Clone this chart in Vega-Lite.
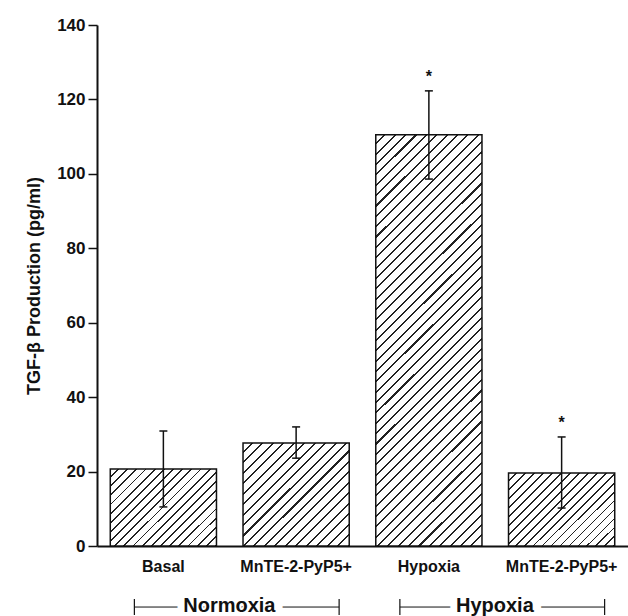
{
"$schema": "https://vega.github.io/schema/vega-lite/v6.json",
"width": 531, "height": 521,
"autosize": "none",
"padding": {"left": 97, "top": 25, "right": 0, "bottom": 70},
"background": "white",
"config": {"view": {"stroke": null}, "font": "Liberation Sans"},
"datasets": {
"bars": [
{"id": "N|Basal", "value": 20.7, "lo": 10.5, "hi": 30.9, "sig": ""},
{"id": "N|MnTE-2-PyP5+", "value": 27.7, "lo": 23.6, "hi": 32.0, "sig": ""},
{"id": "H|Hypoxia", "value": 110.5, "lo": 98.6, "hi": 122.3, "sig": "*"},
{"id": "H|MnTE-2-PyP5+", "value": 19.6, "lo": 10.2, "hi": 29.3, "sig": "*"}
],
"groups": [
{"group": "Normoxia", "first": "N|Basal", "last": "N|MnTE-2-PyP5+"},
{"group": "Hypoxia", "first": "H|Hypoxia", "last": "H|MnTE-2-PyP5+"}
]
},
"layer": [
{
"data": {"name": "bars"},
"mark": {"type": "bar", "stroke": "#111", "strokeWidth": 1.5},
"encoding": {
"x": {"field": "id", "type": "nominal", "sort": null, "title": null,
"scale": {"domain": ["N|Basal", "N|MnTE-2-PyP5+", "H|Hypoxia", "H|MnTE-2-PyP5+"], "paddingInner": 0.2, "paddingOuter": 0.1},
"axis": {"domainColor": "#111", "domainWidth": 2, "ticks": false, "tickSize": 0, "labelFontSize": 16, "labelFontWeight": "bold", "labelColor": "#111", "labelPadding": 12, "labelAngle": 0, "labelExpr": "split(datum.label, '|')[1]", "title": null}},
"y": {"field": "value", "type": "quantitative", "title": "TGF-β Production (pg/ml)",
"scale": {"domain": [0, 140]},
"axis": {"values": [0, 20, 40, 60, 80, 100, 120, 140], "grid": false, "tickSize": 9, "tickWidth": 1.5, "tickColor": "#111", "domainColor": "#111", "domainWidth": 2, "labelFontSize": 17, "labelFontWeight": "bold", "labelColor": "#111", "labelPadding": 3, "titleFontSize": 18, "titleFontWeight": "bold", "titleColor": "#111", "titlePadding": 13}},
"fill": {
"condition": [
{"test": "datum.id === 'N|Basal'", "value": {"gradient": "linear", "x1": 0, "y1": 0, "x2": 1.13, "y2": 0.821, "stops": [
{"offset":0,"color":"#fff"},{"offset":0.04,"color":"#fff"},{"offset":0.04,"color":"#222"},{"offset":0.05,"color":"#222"},
{"offset":0.05,"color":"#fff"},{"offset":0.09,"color":"#fff"},{"offset":0.09,"color":"#222"},{"offset":0.1,"color":"#222"},
{"offset":0.1,"color":"#fff"},{"offset":0.14,"color":"#fff"},{"offset":0.14,"color":"#222"},{"offset":0.15,"color":"#222"},
{"offset":0.15,"color":"#fff"},{"offset":0.19,"color":"#fff"},{"offset":0.19,"color":"#222"},{"offset":0.2,"color":"#222"},
{"offset":0.2,"color":"#fff"},{"offset":0.24,"color":"#fff"},{"offset":0.24,"color":"#222"},{"offset":0.25,"color":"#222"},
{"offset":0.25,"color":"#fff"},{"offset":0.29,"color":"#fff"},{"offset":0.29,"color":"#222"},{"offset":0.3,"color":"#222"},
{"offset":0.3,"color":"#fff"},{"offset":0.34,"color":"#fff"},{"offset":0.34,"color":"#222"},{"offset":0.35,"color":"#222"},
{"offset":0.35,"color":"#fff"},{"offset":0.39,"color":"#fff"},{"offset":0.39,"color":"#222"},{"offset":0.4,"color":"#222"},
{"offset":0.4,"color":"#fff"},{"offset":0.44,"color":"#fff"},{"offset":0.44,"color":"#222"},{"offset":0.45,"color":"#222"},
{"offset":0.45,"color":"#fff"},{"offset":0.49,"color":"#fff"},{"offset":0.49,"color":"#222"},{"offset":0.5,"color":"#222"},
{"offset":0.5,"color":"#fff"},{"offset":0.54,"color":"#fff"},{"offset":0.54,"color":"#222"},{"offset":0.55,"color":"#222"},
{"offset":0.55,"color":"#fff"},{"offset":0.59,"color":"#fff"},{"offset":0.59,"color":"#222"},{"offset":0.6,"color":"#222"},
{"offset":0.6,"color":"#fff"},{"offset":0.64,"color":"#fff"},{"offset":0.64,"color":"#222"},{"offset":0.65,"color":"#222"},
{"offset":0.65,"color":"#fff"},{"offset":0.69,"color":"#fff"},{"offset":0.69,"color":"#222"},{"offset":0.7,"color":"#222"},
{"offset":0.7,"color":"#fff"},{"offset":0.74,"color":"#fff"},{"offset":0.74,"color":"#222"},{"offset":0.75,"color":"#222"},
{"offset":0.75,"color":"#fff"},{"offset":0.79,"color":"#fff"},{"offset":0.79,"color":"#222"},{"offset":0.8,"color":"#222"},
{"offset":0.8,"color":"#fff"},{"offset":0.84,"color":"#fff"},{"offset":0.84,"color":"#222"},{"offset":0.85,"color":"#222"},
{"offset":0.85,"color":"#fff"},{"offset":0.89,"color":"#fff"},{"offset":0.89,"color":"#222"},{"offset":0.9,"color":"#222"},
{"offset":0.9,"color":"#fff"},{"offset":0.94,"color":"#fff"},{"offset":0.94,"color":"#222"},{"offset":0.95,"color":"#222"},
{"offset":0.95,"color":"#fff"},{"offset":0.99,"color":"#fff"},{"offset":0.99,"color":"#222"},{"offset":1,"color":"#222"}
]}},
{"test": "datum.id === 'N|MnTE-2-PyP5+'", "value": {"gradient": "linear", "x1": 0, "y1": 0, "x2": 1.014, "y2": 0.985, "stops": [
{"offset":0,"color":"#fff"},{"offset":0.04,"color":"#fff"},{"offset":0.04,"color":"#222"},{"offset":0.05,"color":"#222"},
{"offset":0.05,"color":"#fff"},{"offset":0.09,"color":"#fff"},{"offset":0.09,"color":"#222"},{"offset":0.1,"color":"#222"},
{"offset":0.1,"color":"#fff"},{"offset":0.14,"color":"#fff"},{"offset":0.14,"color":"#222"},{"offset":0.15,"color":"#222"},
{"offset":0.15,"color":"#fff"},{"offset":0.19,"color":"#fff"},{"offset":0.19,"color":"#222"},{"offset":0.2,"color":"#222"},
{"offset":0.2,"color":"#fff"},{"offset":0.24,"color":"#fff"},{"offset":0.24,"color":"#222"},{"offset":0.25,"color":"#222"},
{"offset":0.25,"color":"#fff"},{"offset":0.29,"color":"#fff"},{"offset":0.29,"color":"#222"},{"offset":0.3,"color":"#222"},
{"offset":0.3,"color":"#fff"},{"offset":0.34,"color":"#fff"},{"offset":0.34,"color":"#222"},{"offset":0.35,"color":"#222"},
{"offset":0.35,"color":"#fff"},{"offset":0.39,"color":"#fff"},{"offset":0.39,"color":"#222"},{"offset":0.4,"color":"#222"},
{"offset":0.4,"color":"#fff"},{"offset":0.44,"color":"#fff"},{"offset":0.44,"color":"#222"},{"offset":0.45,"color":"#222"},
{"offset":0.45,"color":"#fff"},{"offset":0.49,"color":"#fff"},{"offset":0.49,"color":"#222"},{"offset":0.5,"color":"#222"},
{"offset":0.5,"color":"#fff"},{"offset":0.54,"color":"#fff"},{"offset":0.54,"color":"#222"},{"offset":0.55,"color":"#222"},
{"offset":0.55,"color":"#fff"},{"offset":0.59,"color":"#fff"},{"offset":0.59,"color":"#222"},{"offset":0.6,"color":"#222"},
{"offset":0.6,"color":"#fff"},{"offset":0.64,"color":"#fff"},{"offset":0.64,"color":"#222"},{"offset":0.65,"color":"#222"},
{"offset":0.65,"color":"#fff"},{"offset":0.69,"color":"#fff"},{"offset":0.69,"color":"#222"},{"offset":0.7,"color":"#222"},
{"offset":0.7,"color":"#fff"},{"offset":0.74,"color":"#fff"},{"offset":0.74,"color":"#222"},{"offset":0.75,"color":"#222"},
{"offset":0.75,"color":"#fff"},{"offset":0.79,"color":"#fff"},{"offset":0.79,"color":"#222"},{"offset":0.8,"color":"#222"},
{"offset":0.8,"color":"#fff"},{"offset":0.84,"color":"#fff"},{"offset":0.84,"color":"#222"},{"offset":0.85,"color":"#222"},
{"offset":0.85,"color":"#fff"},{"offset":0.89,"color":"#fff"},{"offset":0.89,"color":"#222"},{"offset":0.9,"color":"#222"},
{"offset":0.9,"color":"#fff"},{"offset":0.94,"color":"#fff"},{"offset":0.94,"color":"#222"},{"offset":0.95,"color":"#222"},
{"offset":0.95,"color":"#fff"},{"offset":0.99,"color":"#fff"},{"offset":0.99,"color":"#222"},{"offset":1,"color":"#222"}
]}},
{"test": "datum.id === 'H|MnTE-2-PyP5+'", "value": {"gradient": "linear", "x1": 0, "y1": 0, "x2": 1.145, "y2": 0.789, "stops": [
{"offset":0,"color":"#fff"},{"offset":0.04,"color":"#fff"},{"offset":0.04,"color":"#222"},{"offset":0.05,"color":"#222"},
{"offset":0.05,"color":"#fff"},{"offset":0.09,"color":"#fff"},{"offset":0.09,"color":"#222"},{"offset":0.1,"color":"#222"},
{"offset":0.1,"color":"#fff"},{"offset":0.14,"color":"#fff"},{"offset":0.14,"color":"#222"},{"offset":0.15,"color":"#222"},
{"offset":0.15,"color":"#fff"},{"offset":0.19,"color":"#fff"},{"offset":0.19,"color":"#222"},{"offset":0.2,"color":"#222"},
{"offset":0.2,"color":"#fff"},{"offset":0.24,"color":"#fff"},{"offset":0.24,"color":"#222"},{"offset":0.25,"color":"#222"},
{"offset":0.25,"color":"#fff"},{"offset":0.29,"color":"#fff"},{"offset":0.29,"color":"#222"},{"offset":0.3,"color":"#222"},
{"offset":0.3,"color":"#fff"},{"offset":0.34,"color":"#fff"},{"offset":0.34,"color":"#222"},{"offset":0.35,"color":"#222"},
{"offset":0.35,"color":"#fff"},{"offset":0.39,"color":"#fff"},{"offset":0.39,"color":"#222"},{"offset":0.4,"color":"#222"},
{"offset":0.4,"color":"#fff"},{"offset":0.44,"color":"#fff"},{"offset":0.44,"color":"#222"},{"offset":0.45,"color":"#222"},
{"offset":0.45,"color":"#fff"},{"offset":0.49,"color":"#fff"},{"offset":0.49,"color":"#222"},{"offset":0.5,"color":"#222"},
{"offset":0.5,"color":"#fff"},{"offset":0.54,"color":"#fff"},{"offset":0.54,"color":"#222"},{"offset":0.55,"color":"#222"},
{"offset":0.55,"color":"#fff"},{"offset":0.59,"color":"#fff"},{"offset":0.59,"color":"#222"},{"offset":0.6,"color":"#222"},
{"offset":0.6,"color":"#fff"},{"offset":0.64,"color":"#fff"},{"offset":0.64,"color":"#222"},{"offset":0.65,"color":"#222"},
{"offset":0.65,"color":"#fff"},{"offset":0.69,"color":"#fff"},{"offset":0.69,"color":"#222"},{"offset":0.7,"color":"#222"},
{"offset":0.7,"color":"#fff"},{"offset":0.74,"color":"#fff"},{"offset":0.74,"color":"#222"},{"offset":0.75,"color":"#222"},
{"offset":0.75,"color":"#fff"},{"offset":0.79,"color":"#fff"},{"offset":0.79,"color":"#222"},{"offset":0.8,"color":"#222"},
{"offset":0.8,"color":"#fff"},{"offset":0.84,"color":"#fff"},{"offset":0.84,"color":"#222"},{"offset":0.85,"color":"#222"},
{"offset":0.85,"color":"#fff"},{"offset":0.89,"color":"#fff"},{"offset":0.89,"color":"#222"},{"offset":0.9,"color":"#222"},
{"offset":0.9,"color":"#fff"},{"offset":0.94,"color":"#fff"},{"offset":0.94,"color":"#222"},{"offset":0.95,"color":"#222"},
{"offset":0.95,"color":"#fff"},{"offset":0.99,"color":"#fff"},{"offset":0.99,"color":"#222"},{"offset":1,"color":"#222"}
]}},
{"test": "datum.id === 'H|Hypoxia'", "value": {"gradient": "linear", "x1": 0, "y1": 0, "x2": 0.304, "y2": 1.18, "stops": [
{"offset":0,"color":"#fff"},{"offset":0.016,"color":"#fff"},{"offset":0.016,"color":"#222"},{"offset":0.02,"color":"#222"},
{"offset":0.02,"color":"#fff"},{"offset":0.036,"color":"#fff"},{"offset":0.036,"color":"#222"},{"offset":0.04,"color":"#222"},
{"offset":0.04,"color":"#fff"},{"offset":0.056,"color":"#fff"},{"offset":0.056,"color":"#222"},{"offset":0.06,"color":"#222"},
{"offset":0.06,"color":"#fff"},{"offset":0.076,"color":"#fff"},{"offset":0.076,"color":"#222"},{"offset":0.08,"color":"#222"},
{"offset":0.08,"color":"#fff"},{"offset":0.096,"color":"#fff"},{"offset":0.096,"color":"#222"},{"offset":0.1,"color":"#222"},
{"offset":0.1,"color":"#fff"},{"offset":0.116,"color":"#fff"},{"offset":0.116,"color":"#222"},{"offset":0.12,"color":"#222"},
{"offset":0.12,"color":"#fff"},{"offset":0.136,"color":"#fff"},{"offset":0.136,"color":"#222"},{"offset":0.14,"color":"#222"},
{"offset":0.14,"color":"#fff"},{"offset":0.156,"color":"#fff"},{"offset":0.156,"color":"#222"},{"offset":0.16,"color":"#222"},
{"offset":0.16,"color":"#fff"},{"offset":0.176,"color":"#fff"},{"offset":0.176,"color":"#222"},{"offset":0.18,"color":"#222"},
{"offset":0.18,"color":"#fff"},{"offset":0.196,"color":"#fff"},{"offset":0.196,"color":"#222"},{"offset":0.2,"color":"#222"},
{"offset":0.2,"color":"#fff"},{"offset":0.216,"color":"#fff"},{"offset":0.216,"color":"#222"},{"offset":0.22,"color":"#222"},
{"offset":0.22,"color":"#fff"},{"offset":0.236,"color":"#fff"},{"offset":0.236,"color":"#222"},{"offset":0.24,"color":"#222"},
{"offset":0.24,"color":"#fff"},{"offset":0.256,"color":"#fff"},{"offset":0.256,"color":"#222"},{"offset":0.26,"color":"#222"},
{"offset":0.26,"color":"#fff"},{"offset":0.276,"color":"#fff"},{"offset":0.276,"color":"#222"},{"offset":0.28,"color":"#222"},
{"offset":0.28,"color":"#fff"},{"offset":0.296,"color":"#fff"},{"offset":0.296,"color":"#222"},{"offset":0.3,"color":"#222"},
{"offset":0.3,"color":"#fff"},{"offset":0.316,"color":"#fff"},{"offset":0.316,"color":"#222"},{"offset":0.32,"color":"#222"},
{"offset":0.32,"color":"#fff"},{"offset":0.336,"color":"#fff"},{"offset":0.336,"color":"#222"},{"offset":0.34,"color":"#222"},
{"offset":0.34,"color":"#fff"},{"offset":0.356,"color":"#fff"},{"offset":0.356,"color":"#222"},{"offset":0.36,"color":"#222"},
{"offset":0.36,"color":"#fff"},{"offset":0.376,"color":"#fff"},{"offset":0.376,"color":"#222"},{"offset":0.38,"color":"#222"},
{"offset":0.38,"color":"#fff"},{"offset":0.396,"color":"#fff"},{"offset":0.396,"color":"#222"},{"offset":0.4,"color":"#222"},
{"offset":0.4,"color":"#fff"},{"offset":0.416,"color":"#fff"},{"offset":0.416,"color":"#222"},{"offset":0.42,"color":"#222"},
{"offset":0.42,"color":"#fff"},{"offset":0.436,"color":"#fff"},{"offset":0.436,"color":"#222"},{"offset":0.44,"color":"#222"},
{"offset":0.44,"color":"#fff"},{"offset":0.456,"color":"#fff"},{"offset":0.456,"color":"#222"},{"offset":0.46,"color":"#222"},
{"offset":0.46,"color":"#fff"},{"offset":0.476,"color":"#fff"},{"offset":0.476,"color":"#222"},{"offset":0.48,"color":"#222"},
{"offset":0.48,"color":"#fff"},{"offset":0.496,"color":"#fff"},{"offset":0.496,"color":"#222"},{"offset":0.5,"color":"#222"},
{"offset":0.5,"color":"#fff"},{"offset":0.516,"color":"#fff"},{"offset":0.516,"color":"#222"},{"offset":0.52,"color":"#222"},
{"offset":0.52,"color":"#fff"},{"offset":0.536,"color":"#fff"},{"offset":0.536,"color":"#222"},{"offset":0.54,"color":"#222"},
{"offset":0.54,"color":"#fff"},{"offset":0.556,"color":"#fff"},{"offset":0.556,"color":"#222"},{"offset":0.56,"color":"#222"},
{"offset":0.56,"color":"#fff"},{"offset":0.576,"color":"#fff"},{"offset":0.576,"color":"#222"},{"offset":0.58,"color":"#222"},
{"offset":0.58,"color":"#fff"},{"offset":0.596,"color":"#fff"},{"offset":0.596,"color":"#222"},{"offset":0.6,"color":"#222"},
{"offset":0.6,"color":"#fff"},{"offset":0.616,"color":"#fff"},{"offset":0.616,"color":"#222"},{"offset":0.62,"color":"#222"},
{"offset":0.62,"color":"#fff"},{"offset":0.636,"color":"#fff"},{"offset":0.636,"color":"#222"},{"offset":0.64,"color":"#222"},
{"offset":0.64,"color":"#fff"},{"offset":0.656,"color":"#fff"},{"offset":0.656,"color":"#222"},{"offset":0.66,"color":"#222"},
{"offset":0.66,"color":"#fff"},{"offset":0.676,"color":"#fff"},{"offset":0.676,"color":"#222"},{"offset":0.68,"color":"#222"},
{"offset":0.68,"color":"#fff"},{"offset":0.696,"color":"#fff"},{"offset":0.696,"color":"#222"},{"offset":0.7,"color":"#222"},
{"offset":0.7,"color":"#fff"},{"offset":0.716,"color":"#fff"},{"offset":0.716,"color":"#222"},{"offset":0.72,"color":"#222"},
{"offset":0.72,"color":"#fff"},{"offset":0.736,"color":"#fff"},{"offset":0.736,"color":"#222"},{"offset":0.74,"color":"#222"},
{"offset":0.74,"color":"#fff"},{"offset":0.756,"color":"#fff"},{"offset":0.756,"color":"#222"},{"offset":0.76,"color":"#222"},
{"offset":0.76,"color":"#fff"},{"offset":0.776,"color":"#fff"},{"offset":0.776,"color":"#222"},{"offset":0.78,"color":"#222"},
{"offset":0.78,"color":"#fff"},{"offset":0.796,"color":"#fff"},{"offset":0.796,"color":"#222"},{"offset":0.8,"color":"#222"},
{"offset":0.8,"color":"#fff"},{"offset":0.816,"color":"#fff"},{"offset":0.816,"color":"#222"},{"offset":0.82,"color":"#222"},
{"offset":0.82,"color":"#fff"},{"offset":0.836,"color":"#fff"},{"offset":0.836,"color":"#222"},{"offset":0.84,"color":"#222"},
{"offset":0.84,"color":"#fff"},{"offset":0.856,"color":"#fff"},{"offset":0.856,"color":"#222"},{"offset":0.86,"color":"#222"},
{"offset":0.86,"color":"#fff"},{"offset":0.876,"color":"#fff"},{"offset":0.876,"color":"#222"},{"offset":0.88,"color":"#222"},
{"offset":0.88,"color":"#fff"},{"offset":0.896,"color":"#fff"},{"offset":0.896,"color":"#222"},{"offset":0.9,"color":"#222"},
{"offset":0.9,"color":"#fff"},{"offset":0.916,"color":"#fff"},{"offset":0.916,"color":"#222"},{"offset":0.92,"color":"#222"},
{"offset":0.92,"color":"#fff"},{"offset":0.936,"color":"#fff"},{"offset":0.936,"color":"#222"},{"offset":0.94,"color":"#222"},
{"offset":0.94,"color":"#fff"},{"offset":0.956,"color":"#fff"},{"offset":0.956,"color":"#222"},{"offset":0.96,"color":"#222"},
{"offset":0.96,"color":"#fff"},{"offset":0.976,"color":"#fff"},{"offset":0.976,"color":"#222"},{"offset":0.98,"color":"#222"},
{"offset":0.98,"color":"#fff"},{"offset":0.996,"color":"#fff"},{"offset":0.996,"color":"#222"},{"offset":1,"color":"#222"}
]}}
],
"value": "#ccc"
}
}
},
{
"data": {"name": "bars"},
"mark": {"type": "rule", "color": "#111", "strokeWidth": 1.5},
"encoding": {
"x": {"field": "id", "type": "nominal", "title": null},
"y": {"field": "lo", "type": "quantitative", "title": "TGF-β Production (pg/ml)"},
"y2": {"field": "hi"}
}
},
{
"data": {"name": "bars"},
"mark": {"type": "tick", "orient": "horizontal", "size": 8, "thickness": 1.5, "color": "#111", "opacity": 1},
"encoding": {
"x": {"field": "id", "type": "nominal", "title": null},
"y": {"field": "lo", "type": "quantitative", "title": "TGF-β Production (pg/ml)"}
}
},
{
"data": {"name": "bars"},
"mark": {"type": "tick", "orient": "horizontal", "size": 8, "thickness": 1.5, "color": "#111", "opacity": 1},
"encoding": {
"x": {"field": "id", "type": "nominal", "title": null},
"y": {"field": "hi", "type": "quantitative", "title": "TGF-β Production (pg/ml)"}
}
},
{
"data": {"name": "bars"},
"mark": {"type": "text", "fontSize": 16, "fontWeight": "bold", "color": "#111", "baseline": "middle", "dy": -14},
"encoding": {
"x": {"field": "id", "type": "nominal", "title": null},
"y": {"field": "hi", "type": "quantitative", "title": "TGF-β Production (pg/ml)"},
"text": {"field": "sig"}
}
},
{
"data": {"name": "groups"},
"mark": {"type": "rule", "color": "#111", "strokeWidth": 1, "xOffset": -29, "x2Offset": 43},
"encoding": {
"x": {"field": "first", "type": "nominal", "title": null},
"x2": {"field": "last"},
"y": {"datum": -16.4}
}
},
{
"data": {"name": "groups"},
"mark": {"type": "tick", "orient": "vertical", "size": 16, "thickness": 1.2, "color": "#111", "opacity": 1, "xOffset": -29},
"encoding": {
"x": {"field": "first", "type": "nominal", "title": null},
"y": {"datum": -16.4}
}
},
{
"data": {"name": "groups"},
"mark": {"type": "tick", "orient": "vertical", "size": 16, "thickness": 1.2, "color": "#111", "opacity": 1, "xOffset": 43},
"encoding": {
"x": {"field": "last", "type": "nominal", "title": null},
"y": {"datum": -16.4}
}
},
{
"data": {"name": "groups"},
"mark": {"type": "text", "fontSize": 20, "fontWeight": "bold", "fill": "white", "stroke": "white", "strokeWidth": 14, "baseline": "middle", "xOffset": 66},
"encoding": {
"x": {"field": "first", "type": "nominal", "title": null},
"y": {"datum": -16.2},
"text": {"field": "group"}
}
},
{
"data": {"name": "groups"},
"mark": {"type": "text", "fontSize": 20, "fontWeight": "bold", "fill": "#111", "baseline": "middle", "xOffset": 66},
"encoding": {
"x": {"field": "first", "type": "nominal", "title": null},
"y": {"datum": -16.2},
"text": {"field": "group"}
}
}
]
}
